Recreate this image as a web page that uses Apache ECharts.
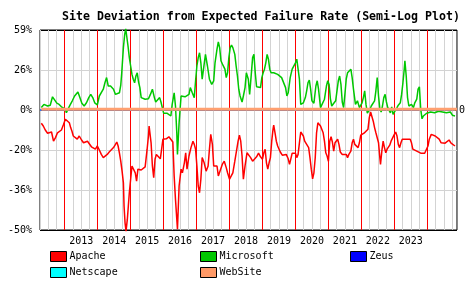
<!DOCTYPE html>
<html><head><meta charset="utf-8">
<script src="https://cdn.jsdelivr.net/npm/echarts@6/dist/echarts.min.js"></script>
<style>html,body{margin:0;padding:0;background:#fff}#c{width:468px;height:300px}</style>
</head><body><div id="c"></div>
<script>
// y values are on a semi-log scale: 1 unit = a factor of 2^(1/3)
const yTickLabels = ['-50%','-36%','-20%','0%','26%','59%']; // values -3..2
const yearLabels = ['2013','2014','2015','2016','2017','2018','2019','2020','2021','2022','2023'];

const apache = [[2012.29,-0.33],[2012.35,-0.40],[2012.41,-0.50],[2012.48,-0.58],[2012.54,-0.61],[2012.60,-0.55],[2012.66,-0.78],[2012.72,-0.69],[2012.78,-0.57],[2012.84,-0.53],[2012.90,-0.50],[2012.96,-0.37],[2013.02,-0.23],[2013.08,-0.25],[2013.14,-0.32],[2013.18,-0.44],[2013.22,-0.53],[2013.26,-0.65],[2013.32,-0.61],[2013.38,-0.73],[2013.44,-0.65],[2013.51,-0.75],[2013.57,-0.82],[2013.63,-0.78],[2013.69,-0.78],[2013.75,-0.80],[2013.81,-0.92],[2013.87,-0.97],[2013.93,-0.98],[2013.99,-0.90],[2014.05,-1.00],[2014.11,-1.11],[2014.17,-1.19],[2014.23,-1.23],[2014.29,-1.11],[2014.35,-1.05],[2014.41,-1.03],[2014.48,-0.94],[2014.54,-0.86],[2014.58,-0.80],[2014.62,-0.90],[2014.66,-1.08],[2014.70,-1.28],[2014.74,-1.53],[2014.78,-1.82],[2014.80,-2.40],[2014.83,-2.82],[2014.86,-3.03],[2014.90,-2.73],[2014.93,-2.40],[2014.96,-2.07],[2015.00,-1.73],[2015.04,-1.40],[2015.10,-1.38],[2015.14,-1.57],[2015.18,-1.78],[2015.22,-1.48],[2015.26,-1.44],[2015.32,-1.50],[2015.38,-1.47],[2015.44,-1.42],[2015.50,-0.98],[2015.54,-0.65],[2015.56,-0.40],[2015.62,-0.82],[2015.66,-1.40],[2015.70,-1.69],[2015.74,-1.23],[2015.78,-1.11],[2015.84,-1.15],[2015.90,-1.22],[2015.94,-0.98],[2015.98,-0.73],[2016.02,-0.69],[2016.08,-0.72],[2016.16,-0.67],[2016.20,-0.69],[2016.28,-0.80],[2016.32,-1.65],[2016.36,-2.23],[2016.40,-2.73],[2016.42,-2.98],[2016.47,-1.90],[2016.53,-1.48],[2016.57,-1.57],[2016.63,-1.32],[2016.67,-1.07],[2016.71,-1.48],[2016.77,-1.15],[2016.83,-0.94],[2016.89,-0.78],[2016.93,-0.86],[2016.97,-0.98],[2017.01,-1.40],[2017.05,-1.90],[2017.09,-2.07],[2017.13,-1.73],[2017.17,-1.19],[2017.23,-1.32],[2017.29,-1.53],[2017.35,-1.40],[2017.39,-0.98],[2017.43,-0.61],[2017.48,-0.86],[2017.52,-1.40],[2017.58,-1.36],[2017.62,-1.40],[2017.66,-1.65],[2017.72,-1.61],[2017.78,-1.36],[2017.84,-1.28],[2017.90,-1.44],[2017.94,-1.57],[2018.00,-1.73],[2018.04,-1.72],[2018.10,-1.57],[2018.16,-1.28],[2018.22,-1.23],[2018.26,-0.78],[2018.30,-0.63],[2018.34,-0.78],[2018.38,-1.15],[2018.42,-1.73],[2018.47,-1.40],[2018.53,-1.07],[2018.59,-1.03],[2018.64,-1.19],[2018.70,-1.28],[2018.76,-1.23],[2018.82,-1.17],[2018.88,-1.08],[2018.94,-1.17],[2019.00,-1.23],[2019.04,-1.07],[2019.08,-0.98],[2019.12,-1.32],[2019.16,-1.48],[2019.20,-1.32],[2019.24,-1.19],[2019.28,-0.78],[2019.32,-0.48],[2019.34,-0.38],[2019.38,-0.57],[2019.42,-0.78],[2019.46,-0.90],[2019.50,-0.86],[2019.54,-1.05],[2019.60,-1.13],[2019.66,-1.15],[2019.72,-1.11],[2019.78,-1.22],[2019.82,-1.36],[2019.86,-1.22],[2019.90,-1.08],[2019.96,-1.07],[2020.00,-1.08],[2020.04,-1.19],[2020.08,-1.11],[2020.12,-0.82],[2020.16,-0.55],[2020.20,-0.57],[2020.24,-0.65],[2020.28,-0.78],[2020.34,-0.82],[2020.40,-0.94],[2020.44,-1.19],[2020.48,-1.48],[2020.52,-1.72],[2020.56,-1.57],[2020.60,-1.19],[2020.64,-0.57],[2020.68,-0.32],[2020.72,-0.36],[2020.76,-0.40],[2020.80,-0.44],[2020.84,-0.57],[2020.88,-0.78],[2020.92,-1.07],[2020.96,-1.15],[2021.00,-1.28],[2021.04,-0.78],[2021.08,-0.67],[2021.12,-0.80],[2021.16,-1.03],[2021.20,-0.82],[2021.24,-0.86],[2021.28,-0.73],[2021.32,-0.86],[2021.36,-1.05],[2021.42,-1.11],[2021.48,-1.08],[2021.54,-1.11],[2021.58,-1.19],[2021.62,-1.11],[2021.68,-1.03],[2021.72,-0.82],[2021.76,-0.73],[2021.80,-0.86],[2021.86,-0.82],[2021.90,-0.94],[2021.94,-0.82],[2021.98,-0.63],[2022.02,-0.58],[2022.08,-0.58],[2022.14,-0.55],[2022.20,-0.48],[2022.24,-0.19],[2022.28,-0.05],[2022.32,-0.07],[2022.36,-0.28],[2022.40,-0.44],[2022.44,-0.57],[2022.48,-0.61],[2022.52,-0.82],[2022.56,-1.19],[2022.58,-1.36],[2022.62,-1.03],[2022.66,-0.78],[2022.70,-0.94],[2022.74,-1.07],[2022.78,-0.98],[2022.82,-0.94],[2022.86,-0.88],[2022.90,-0.78],[2022.96,-0.73],[2023.00,-0.61],[2023.04,-0.55],[2023.08,-0.65],[2023.12,-0.86],[2023.16,-0.94],[2023.20,-0.82],[2023.24,-0.73],[2023.30,-0.73],[2023.36,-0.73],[2023.42,-0.78],[2023.48,-0.73],[2023.52,-0.82],[2023.56,-0.98],[2023.62,-1.00],[2023.68,-1.03],[2023.74,-1.03],[2023.80,-1.08],[2023.86,-1.11],[2023.92,-1.08],[2023.98,-1.03],[2024.02,-0.90],[2024.06,-0.73],[2024.12,-0.61],[2024.18,-0.57],[2024.24,-0.65],[2024.30,-0.69],[2024.36,-0.73],[2024.42,-0.82],[2024.48,-0.78],[2024.54,-0.83],[2024.60,-0.80],[2024.66,-0.75],[2024.72,-0.83],[2024.78,-0.86],[2024.84,-0.90]];

const microsoft = [[2012.29,0.06],[2012.37,0.14],[2012.48,0.10],[2012.56,0.12],[2012.63,0.33],[2012.68,0.28],[2012.76,0.17],[2012.83,0.14],[2012.90,0.08],[2012.96,0.06],[2013.02,0.02],[2013.05,-0.07],[2013.10,0.02],[2013.16,0.12],[2013.23,0.23],[2013.30,0.35],[2013.36,0.39],[2013.40,0.45],[2013.46,0.31],[2013.52,0.17],[2013.59,0.10],[2013.66,0.18],[2013.73,0.31],[2013.79,0.39],[2013.85,0.31],[2013.91,0.18],[2013.99,0.13],[2014.05,0.35],[2014.11,0.39],[2014.17,0.52],[2014.22,0.68],[2014.27,0.81],[2014.32,0.60],[2014.39,0.60],[2014.48,0.52],[2014.54,0.39],[2014.60,0.35],[2014.66,0.43],[2014.70,0.62],[2014.73,0.93],[2014.78,1.56],[2014.82,1.89],[2014.85,2.03],[2014.88,1.85],[2014.92,1.60],[2014.96,1.31],[2015.00,1.10],[2015.04,0.89],[2015.08,0.77],[2015.12,0.68],[2015.16,0.85],[2015.20,0.93],[2015.24,0.70],[2015.28,0.56],[2015.32,0.31],[2015.38,0.27],[2015.44,0.27],[2015.54,0.28],[2015.60,0.39],[2015.66,0.52],[2015.72,0.31],[2015.76,0.20],[2015.82,0.17],[2015.88,0.31],[2015.92,0.20],[2015.96,0.06],[2016.00,-0.08],[2016.04,-0.03],[2016.10,-0.08],[2016.16,-0.13],[2016.22,-0.15],[2016.26,0.14],[2016.32,0.43],[2016.36,0.10],[2016.40,-0.57],[2016.42,-1.11],[2016.47,-0.32],[2016.53,0.35],[2016.59,0.31],[2016.65,0.33],[2016.71,0.28],[2016.77,0.39],[2016.81,0.56],[2016.87,0.43],[2016.93,0.31],[2016.97,0.73],[2017.01,1.10],[2017.05,1.31],[2017.09,1.43],[2017.13,1.18],[2017.17,0.77],[2017.21,1.02],[2017.27,1.39],[2017.33,1.10],[2017.39,0.77],[2017.46,0.64],[2017.52,0.73],[2017.56,1.18],[2017.62,1.52],[2017.66,1.70],[2017.70,1.56],[2017.74,1.23],[2017.80,1.12],[2017.86,1.02],[2017.90,0.81],[2017.94,0.93],[2017.98,1.31],[2018.02,1.56],[2018.06,1.62],[2018.10,1.56],[2018.16,1.39],[2018.20,1.10],[2018.24,0.85],[2018.28,0.52],[2018.32,0.35],[2018.38,0.20],[2018.42,0.35],[2018.47,0.56],[2018.51,0.93],[2018.57,0.77],[2018.61,0.39],[2018.66,0.89],[2018.70,1.31],[2018.74,1.39],[2018.78,0.93],[2018.82,0.58],[2018.88,0.56],[2018.94,0.56],[2018.98,0.81],[2019.02,0.93],[2019.06,1.02],[2019.10,1.18],[2019.14,1.39],[2019.18,1.27],[2019.22,1.02],[2019.26,0.93],[2019.34,0.93],[2019.40,0.98],[2019.46,0.89],[2019.52,0.85],[2019.58,0.81],[2019.64,0.77],[2019.70,0.56],[2019.74,0.35],[2019.78,0.43],[2019.84,0.81],[2019.90,1.02],[2019.96,1.06],[2020.00,1.18],[2020.04,1.27],[2020.08,1.02],[2020.12,0.77],[2020.16,0.14],[2020.20,0.12],[2020.24,0.18],[2020.30,0.31],[2020.34,0.48],[2020.38,0.68],[2020.42,0.75],[2020.46,0.52],[2020.50,0.23],[2020.56,0.17],[2020.62,0.60],[2020.66,0.73],[2020.70,0.52],[2020.76,0.06],[2020.82,0.06],[2020.88,0.27],[2020.94,0.60],[2020.98,0.73],[2021.02,0.64],[2021.06,0.28],[2021.10,0.10],[2021.16,0.12],[2021.22,0.23],[2021.26,0.48],[2021.30,0.73],[2021.34,0.85],[2021.38,0.64],[2021.42,0.20],[2021.46,0.06],[2021.50,0.39],[2021.54,0.77],[2021.58,0.93],[2021.62,0.98],[2021.68,1.02],[2021.72,0.81],[2021.76,0.52],[2021.82,0.14],[2021.88,0.23],[2021.94,0.06],[2021.98,0.02],[2022.02,0.18],[2022.06,0.31],[2022.10,0.48],[2022.14,0.14],[2022.18,-0.08],[2022.22,-0.03],[2022.26,0.02],[2022.30,0.10],[2022.36,0.14],[2022.40,0.23],[2022.44,0.48],[2022.48,0.81],[2022.52,0.35],[2022.56,0.03],[2022.60,-0.05],[2022.64,0.10],[2022.68,0.31],[2022.72,0.39],[2022.76,0.20],[2022.80,0.06],[2022.84,0.10],[2022.88,-0.07],[2022.92,0.08],[2022.96,-0.11],[2023.00,-0.05],[2023.04,-0.08],[2023.08,0.06],[2023.12,0.12],[2023.18,0.18],[2023.22,0.39],[2023.26,0.68],[2023.30,1.02],[2023.32,1.23],[2023.36,0.85],[2023.40,0.31],[2023.44,0.10],[2023.48,0.06],[2023.52,0.14],[2023.58,0.06],[2023.62,0.18],[2023.68,0.27],[2023.72,0.52],[2023.76,0.58],[2023.80,0.02],[2023.84,-0.22],[2023.88,-0.15],[2023.92,-0.11],[2023.98,-0.08],[2024.04,-0.03],[2024.10,-0.05],[2024.16,-0.03],[2024.22,-0.07],[2024.28,-0.05],[2024.34,-0.03],[2024.40,-0.08],[2024.46,-0.05],[2024.52,-0.05],[2024.58,-0.07],[2024.64,-0.08],[2024.70,-0.05],[2024.76,-0.13],[2024.80,-0.08],[2024.84,-0.15]];

const zeus = [[2012.25,0],[2024.84,0]];
const netscape = [[2012.25,0],[2024.84,0]];
const website = [[2012.29,0.02],[2024.9,0.02]];

const FONT = 'DejaVu Sans Mono';
const GRAY = '#d3d3d3';
const chart = echarts.init(document.getElementById('c'), null, {renderer:'canvas'});
const legendCommon = {
  orient:'vertical', top:251, padding:0, itemWidth:16, itemHeight:10, itemGap:5,
  icon:'rect', itemStyle:{borderColor:'#000', borderWidth:1},
  textStyle:{fontFamily:FONT, fontSize:10, color:'#000', lineHeight:10, padding:[0,0,0,-2]},
  selectedMode:false
};
chart.setOption({
  animation:false,
  backgroundColor:'#fff',
  title:{text:'Site Deviation from Expected Failure Rate (Semi-Log Plot)', left:62, top:11, padding:0,
    textStyle:{fontFamily:FONT, fontWeight:'bold', fontSize:11.6, color:'#000'}},
  legend:[
    Object.assign({left:50, data:['Apache','Netscape']}, legendCommon),
    Object.assign({left:200, data:['Microsoft','WebSite']}, legendCommon),
    Object.assign({left:350, data:['Zeus']}, legendCommon)
  ],
  grid:{left:40, right:6, top:30, bottom:70, show:true, borderColor:'#000', borderWidth:1, backgroundColor:'#fff', z:0},
  xAxis:{type:'value', min:2012.25, max:2024.9, interval:0.25,
    axisLine:{show:false}, axisTick:{show:false},
    splitLine:{show:true, showMaxLine:false, lineStyle:{color:[GRAY,GRAY,GRAY,'#ff0000'], width:1}},
    axisLabel:{margin:6, fontFamily:FONT, fontSize:10, color:'#000', showMinLabel:true, showMaxLabel:false,
      formatter:function(v){ const y=Math.floor(v); const s=String(y);
        return (Math.abs(v-y-0.5)<0.01 && yearLabels.indexOf(s)>=0) ? s : ''; }}
  },
  yAxis:[{type:'value', min:-3, max:2, interval:1,
    axisLine:{show:false}, axisTick:{show:false},
    splitLine:{show:true, lineStyle:{color:['#000',GRAY,GRAY,'#000',GRAY,'#000'], width:1}},
    axisLabel:{margin:8, fontFamily:FONT, fontSize:10, color:'#000',
      formatter:function(v){ return yTickLabels[Math.round(v)+3] || ''; }}
  },{type:'value', position:'right', min:-3, max:2, interval:1,
    axisLine:{show:false}, axisTick:{show:false}, splitLine:{show:false},
    axisLabel:{margin:2, fontFamily:FONT, fontSize:10, color:'#000',
      formatter:function(v){ return Math.round(v)===0 ? '0' : ''; }}
  }],
  series:[
    {name:'Netscape', type:'line', data:netscape, symbol:'none',
      itemStyle:{color:'#00ffff'}, lineStyle:{color:'#00ffff', width:1}},
    {name:'Zeus', type:'line', data:zeus, symbol:'none', itemStyle:{color:'#0000ff'}, lineStyle:{color:'#0000ff', width:1}},
    {name:'Apache', type:'line', data:apache, symbol:'none', clip:false, itemStyle:{color:'#ff0000'}, lineStyle:{color:'#ff0000', width:1.5}},
    {name:'Microsoft', type:'line', data:microsoft, symbol:'none', clip:false, itemStyle:{color:'#00c800'}, lineStyle:{color:'#00c800', width:1.5}},
    {name:'WebSite', type:'line', data:website, symbol:'none', itemStyle:{color:'#ff9966'}, lineStyle:{color:'#ffa070', width:3}}
  ]
});
</script></body></html>
